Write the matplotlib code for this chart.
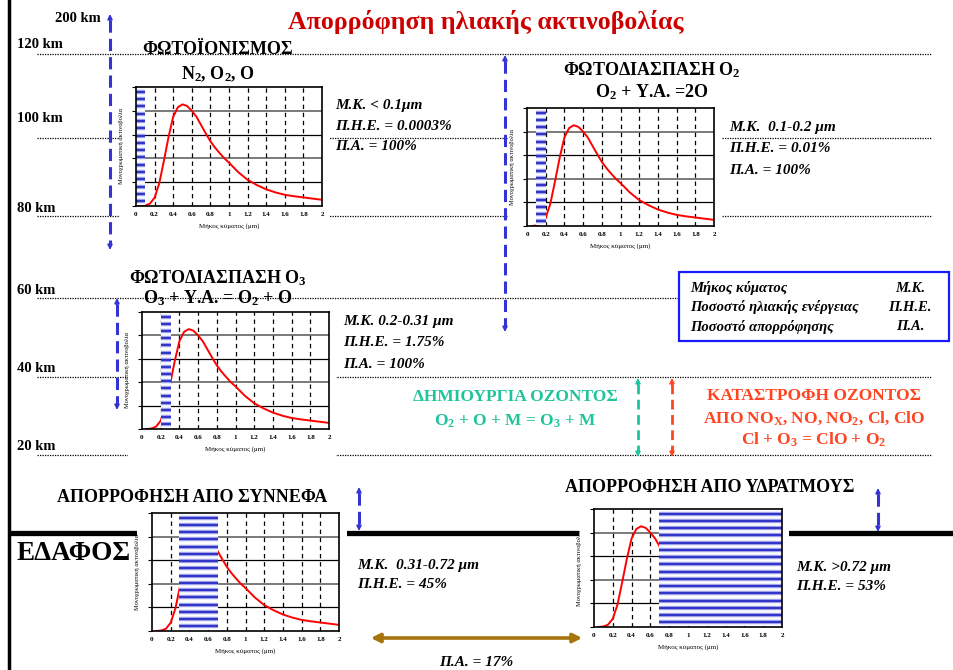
import numpy as np
import matplotlib
matplotlib.use("Agg")
import matplotlib.pyplot as plt
from matplotlib.patches import Rectangle, FancyArrowPatch

plt.rcParams['font.family'] = ['Liberation Serif', 'DejaVu Serif']
plt.rcParams['font.weight'] = 'bold'
plt.rcParams['mathtext.fontset'] = 'custom'
plt.rcParams['mathtext.rm'] = 'Liberation Serif:bold'
plt.rcParams['mathtext.it'] = 'Liberation Serif:bold:italic'
plt.rcParams['mathtext.bf'] = 'Liberation Serif:bold'

W, H = 954, 670

# solar spectrum (5 grid rows, arbitrary units)
wavelength = [0, 0.05, 0.1, 0.15, 0.2, 0.25, 0.3, 0.35, 0.4, 0.45, 0.5, 0.55, 0.6, 0.65,
              0.7, 0.75, 0.8, 0.85, 0.9, 0.95, 1.0, 1.1, 1.2, 1.3, 1.4, 1.5, 1.6, 1.7,
              1.8, 1.9, 2.0]
irradiance = [0, 0, 0.02, 0.1, 0.35, 0.95, 1.9, 2.9, 3.75, 4.15, 4.27, 4.2, 4.0, 3.75,
              3.4, 3.05, 2.72, 2.45, 2.22, 2.0, 1.82, 1.42, 1.1, 0.88, 0.7, 0.57, 0.47,
              0.41, 0.36, 0.31, 0.26]
xtick_values = [0, 0.2, 0.4, 0.6, 0.8, 1, 1.2, 1.4, 1.6, 1.8, 2]
xtick_labels = ['0', '0.2', '0.4', '0.6', '0.8', '1', '1.2', '1.4', '1.6', '1.8', '2']

# absorbed wavelength band of each panel (μm)
absorbed_bands = [(0, 0.1), (0.1, 0.2), (0.2, 0.31), (0.29, 0.71), (0.69, 2.0)]
curve_start = [0.0, 0.05, 0.05, 0.05, 0.05]

panel_titles = [
    ['ΦΩΤΟΪΟΝΙΣΜΟΣ', r'N$_\mathrm{2}$, O$_\mathrm{2}$, O'],
    [r'ΦΩΤΟΔΙΑΣΠΑΣΗ O$_\mathrm{2}$', r'O$_\mathrm{2}$ + Υ.Α. =2O'],
    [r'ΦΩΤΟΔΙΑΣΠΑΣΗ O$_\mathrm{3}$', r'O$_\mathrm{3}$ + Υ.Α. = O$_\mathrm{2}$ + O'],
    ['ΑΠΟΡΡΟΦΗΣΗ ΑΠΟ ΣΥΝΝΕΦΑ'],
    ['ΑΠΟΡΡΟΦΗΣΗ ΑΠΟ ΥΔΡΑΤΜΟΥΣ'],
]
panel_info = [
    ['Μ.Κ. < 0.1μm', 'Π.Η.Ε. = 0.0003%', 'Π.Α. = 100%'],
    ['Μ.Κ.  0.1-0.2 μm', 'Π.Η.Ε. = 0.01%', 'Π.Α. = 100%'],
    ['Μ.Κ. 0.2-0.31 μm', 'Π.Η.Ε. = 1.75%', 'Π.Α. = 100%'],
    ['Μ.Κ.  0.31-0.72 μm', 'Π.Η.Ε. = 45%'],
    ['Μ.Κ. >0.72 μm', 'Π.Η.Ε. = 53%'],
]
altitude_labels = ['200 km', '120 km', '100 km', '80 km', '60 km', '40 km', '20 km']
legend_terms = ['Μήκος κύματος', 'Ποσοστό ηλιακής ενέργειας', 'Ποσοστό απορρόφησης']
legend_abbr = ['Μ.Κ.', 'Π.Η.Ε.', 'Π.Α.']
ozone_make = ['ΔΗΜΙΟΥΡΓΙΑ ΟΖΟΝΤΟΣ', r'O$_\mathrm{2}$ + O + M = O$_\mathrm{3}$ + M']
ozone_break = ['ΚΑΤΑΣΤΡΟΦΗ ΟΖΟΝΤΟΣ',
               r'ΑΠΟ NO$_\mathrm{X}$, NO, NO$_\mathrm{2}$, Cl, ClO',
               r'Cl + O$_\mathrm{3}$ = ClO + O$_\mathrm{2}$']

# layout, in pixels of the 954x670 picture
panel_boxes = [(136, 87, 322, 206), (527, 108, 714, 226), (142, 312, 329, 429),
               (152, 513, 339, 631), (594, 509, 782, 627)]
panel_clear = [(120, 80, 330, 242), (508, 100, 722, 250), (128, 305, 336, 470),
               (137, 505, 347, 665), (579, 500, 789, 665)]
title_xy = [(218, 50, 24), (652, 70, 22), (218, 278, 20), (192, 497, 0), (710, 488, 0)]
info_xy = [(335, 106, 20.5), (729, 127, 21.5), (343, 322, 21), (357, 565, 20), (796, 567, 20)]
altitude_xy = [(55, 18), (17, 45), (17, 118), (17, 208), (17, 290), (17, 368), (17, 447)]
dotted_y = [54, 138, 216, 298, 377, 455]

fig = plt.figure(figsize=(W / 100, H / 100), dpi=100)
bg = fig.add_axes([0, 0, 1, 1])
bg.set_xlim(0, W)
bg.set_ylim(H, 0)
bg.axis('off')

# frame, altitude lines and ground
bg.plot([9, 9], [0, H], color='black', lw=2.5, zorder=1)
for y in dotted_y:
    bg.plot([37, 932], [y, y], color='black', lw=0.9, ls=(0, (1, 1)), zorder=1)
bg.plot([9, W], [533, 533], color='black', lw=3.8, zorder=1.5, solid_capstyle='butt')
for x0, y0, x1, y1 in panel_clear:
    bg.add_patch(Rectangle((x0, y0), x1 - x0, y1 - y0, facecolor='white',
                           edgecolor='none', zorder=2))

for s, (x, y) in zip(altitude_labels, altitude_xy):
    bg.text(x, y, s, fontsize=10.5, ha='left', va='center', zorder=3)

bg.text(486, 22, 'Απορρόφηση ηλιακής ακτινοβολίας', color='#cc0000', fontsize=18.6,
        ha='center', va='center', zorder=3)
bg.text(17, 553, 'ΕΔΑΦΟΣ', fontsize=19.5, ha='left', va='center', zorder=3)

for lines, (x, y, dy) in zip(panel_titles, title_xy):
    for i, s in enumerate(lines):
        bg.text(x, y + i * dy, s, fontsize=13, ha='center', va='center', zorder=3)

for lines, (x, y, dy) in zip(panel_info, info_xy):
    for i, s in enumerate(lines):
        bg.text(x, y + i * dy, s, fontsize=11, style='italic', ha='left',
                va='center', zorder=3)

bg.text(476, 662, 'Π.Α. = 17%', fontsize=11, style='italic', ha='center',
        va='center', zorder=3)

# legend box
bg.add_patch(Rectangle((679, 272), 270, 69, facecolor='white', edgecolor='#1a1aff',
                       lw=1.6, zorder=4))
for i, (t, a) in enumerate(zip(legend_terms, legend_abbr)):
    bg.text(690, 288 + i * 19.5, t, fontsize=10.5, style='italic', ha='left',
            va='center', zorder=5)
    bg.text(910, 288 + i * 19.5, a, fontsize=10.5, style='italic', ha='center',
            va='center', zorder=5)

for i, s in enumerate(ozone_make):
    bg.text(515, 397 + i * 24, s, color='#1ec49c', fontsize=12.5, ha='center',
            va='center', zorder=3)
for i, s in enumerate(ozone_break):
    bg.text(814, 396 + i * 22, s, color='#ff4422', fontsize=12.5, ha='center',
            va='center', zorder=3)


def dashed_arrow(x, y0, y1, color, lw=2.2, dash=(4, 2)):
    bg.plot([x, x], [y0 + 6, y1 - 6], color=color, lw=lw, ls=(0, dash), zorder=3)
    for ya, yb in ((y0 + 8, y0), (y1 - 8, y1)):
        bg.annotate('', xy=(x, yb), xytext=(x, ya), zorder=3,
                    arrowprops=dict(arrowstyle='-|>', color=color, lw=1.2,
                                    mutation_scale=7, shrinkA=0, shrinkB=0))


blue = '#3434d4'
dashed_arrow(110, 14, 250, blue)
dashed_arrow(505, 55, 332, blue)
dashed_arrow(117, 298, 410, blue)
dashed_arrow(359, 487, 531, blue)
dashed_arrow(878, 488, 532, blue)
dashed_arrow(638, 378, 457, '#1ec49c', lw=2, dash=(3.5, 2))
dashed_arrow(672, 378, 457, '#ff4422', lw=2, dash=(3.5, 2))

bg.add_patch(FancyArrowPatch((368, 638), (585, 638), arrowstyle='<|-|>',
                             mutation_scale=13, lw=2.6, color='#a8740c', zorder=3))

# spectrum panels
wl = np.array(wavelength)
ir = np.array(irradiance)
for (x0, y0, x1, y1), band, start in zip(panel_boxes, absorbed_bands, curve_start):
    ax = fig.add_axes([x0 / W, 1 - y1 / H, (x1 - x0) / W, (y1 - y0) / H], zorder=5)
    ax.set_facecolor('white')
    ax.set_xlim(0, 2)
    ax.set_ylim(0, 5)
    for k in range(1, 5):
        ax.axhline(k, color='#7a7a7a' if k % 2 == 0 else 'black',
                   lw=1.4 if k % 2 == 0 else 0.9, zorder=1)
    for xv in xtick_values[1:-1]:
        ax.axvline(xv, color='black', lw=0.9, ls=(0, (3.5, 3)), zorder=1)
    keep = wl >= start
    ax.plot(wl[keep], ir[keep], color='red', lw=1.4, zorder=3)
    ax.add_patch(Rectangle((band[0], 0.05), band[1] - band[0], 4.95,
                           facecolor='white', edgecolor='none', zorder=4))
    stripes = np.linspace(0.2, 4.8, 16)
    ax.hlines(stripes, band[0], band[1], colors='#a4a6ea', lw=3.2, zorder=5)
    ax.hlines(stripes, band[0], band[1], colors='#3236c8', lw=1.5, zorder=6)
    ax.set_xticks(xtick_values)
    ax.set_xticklabels(xtick_labels, fontsize=5)
    ax.set_yticks(range(6))
    ax.set_yticklabels([])
    ax.tick_params(axis='x', length=0, pad=4)
    ax.tick_params(axis='y', length=3, width=0.8, direction='out')
    ax.set_xlabel('Μήκος κύματος (μm)', fontsize=5, labelpad=5)
    ax.set_ylabel('Μονοχρωματική ακτινοβολία', fontsize=4.6, labelpad=2)
    for sp in ax.spines.values():
        sp.set_linewidth(1.2)
        sp.set_zorder(7)

fig.savefig('out.png', dpi=100)
